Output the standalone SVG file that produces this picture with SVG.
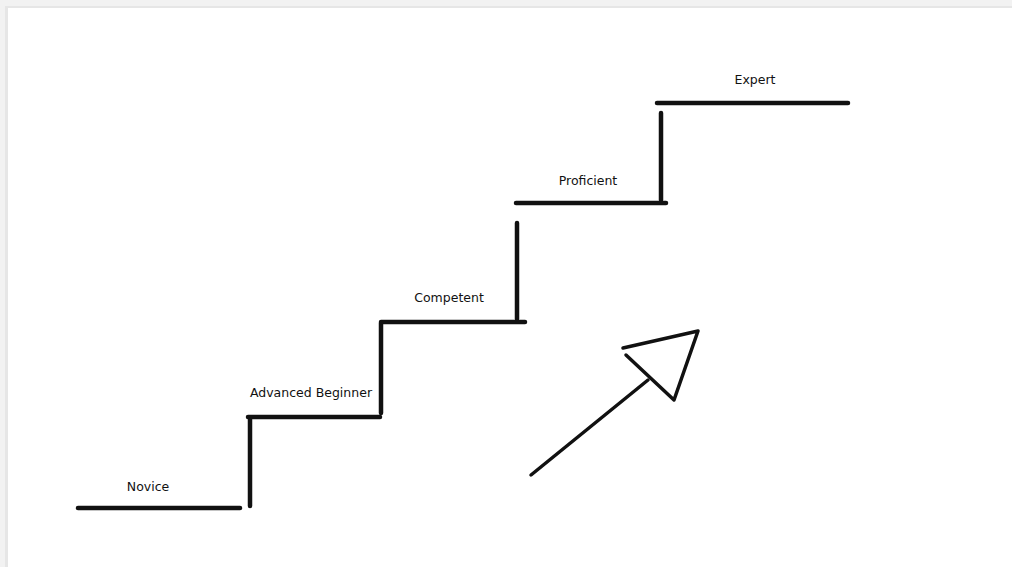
<svg xmlns="http://www.w3.org/2000/svg" width="1012" height="567" viewBox="0 0 1012 567">
<style>
.step{stroke:#111;stroke-width:4.5;stroke-linecap:round;fill:none}
.arr{stroke:#111;stroke-width:3.5;stroke-linecap:round;stroke-linejoin:round;fill:none}
.lbl{font-family:"DejaVu Sans",sans-serif;font-size:12.5px;fill:#111;text-anchor:middle}
</style>
<rect x="0" y="0" width="1012" height="567" fill="#f2f2f2"/>
<rect x="5" y="6" width="1007" height="561" fill="#e6e6e6"/>
<rect x="8" y="8" width="1004" height="559" fill="#ffffff"/>
<g id="connectors">
<line class="step" x1="250" y1="419" x2="250" y2="506"/>
<line class="step" x1="381" y1="323" x2="381" y2="413"/>
<line class="step" x1="517" y1="223" x2="517" y2="319"/>
<line class="step" x1="661" y1="113" x2="661" y2="200"/>
</g>
<g id="novice">
<line class="step" x1="78" y1="508" x2="240" y2="508"/>
<text class="lbl" x="148" y="491">Novice</text>
</g>
<g id="advanced-beginner">
<line class="step" x1="248" y1="417" x2="380" y2="417"/>
<text class="lbl" x="311" y="397">Advanced Beginner</text>
</g>
<g id="competent">
<line class="step" x1="381" y1="322" x2="525" y2="322"/>
<text class="lbl" x="449" y="302">Competent</text>
</g>
<g id="proficient">
<line class="step" x1="516" y1="203" x2="666" y2="203"/>
<text class="lbl" x="588" y="185">Proficient</text>
</g>
<g id="expert">
<line class="step" x1="657" y1="103" x2="848" y2="103"/>
<text class="lbl" x="755" y="84">Expert</text>
</g>
<g id="arrow">
<line class="arr" x1="531" y1="475" x2="648" y2="380"/>
<path class="arr" d="M623,348 L698,331 L674,400 L626,355"/>
</g>
</svg>
